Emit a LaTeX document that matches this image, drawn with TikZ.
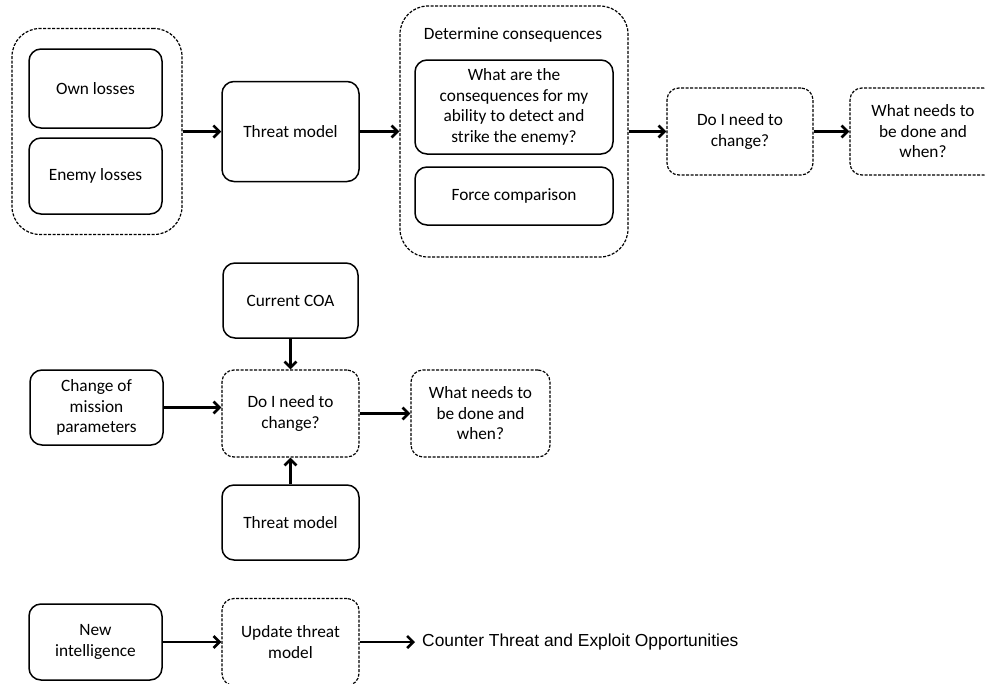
\documentclass[tikz,border=0pt]{standalone}
\usepackage{fontspec}
\setmainfont{Carlito}
\newfontfamily\arialfont{Liberation Sans}
\usetikzlibrary{positioning, arrows.meta}

\begin{document}
\begin{tikzpicture}[
    x=1pt, y=-1pt,
    >={Straight Barb[length=6pt,width=12pt]},
    font=\fontsize{17.3}{20.5}\selectfont,
    % Styles
    box/.style={
        rectangle,
        rounded corners=12pt,
        minimum height=75pt,
        minimum width=133pt,
        inner sep=0pt,
        align=center,
        draw,
        line width=1.5pt
    },
    dbox/.style={
        rectangle,
        rounded corners=12pt,
        minimum height=87pt,
        minimum width=137pt,
        inner sep=0pt,
        align=center,
        draw,
        line width=1.2pt,
        dash pattern=on 3pt off 1.5pt
    },
    group/.style={
        dbox,
        rounded corners=28pt
    },
    arrow/.style={
        ->,
        line width=2.6pt
    }
]
    \useasboundingbox (0,0) rectangle (985,683);

    % Top row
    \node[group, minimum width=170pt, minimum height=206pt] (losses) at (97,131.5) {};
    \node[box, minimum height=79pt] (own) at (95.5,88.5) {Own losses};
    \node[box, minimum height=76pt] (enemy) at (95.5,176) {Enemy losses};
    \node[box, minimum width=137pt, minimum height=100pt] (threat1) at (290.5,131.5) {Threat model};

    \node[group, minimum width=228pt, minimum height=251pt] (determine) at (514,131.5) {};
    \node (dettitle) at (513,35) {Determine consequences};
    \node[box, minimum width=198pt, minimum height=94pt] (conseq) at (514,107)
        {What are the\\consequences for my\\ability to detect and\\strike the enemy?};
    \node[box, minimum width=198pt, minimum height=58pt] (force) at (514,196) {Force comparison};

    \node[dbox, minimum width=146pt] (change1) at (740,131.5) {Do I need to\\change?};
    \node[dbox, minimum width=146pt] (whatnext1) at (923,131.5) {What needs to\\be done and\\when?};

    % Middle
    \node[box, minimum width=135pt] (coa) at (290.5,300.5) {Current COA};
    \node[box] (mission) at (96.5,407.5) {Change of\\mission\\parameters};
    \node[dbox] (change2) at (290.5,413.5) {Do I need to\\change?};
    \node[dbox, minimum width=139pt] (whatnext2) at (480.5,413.5) {What needs to\\be done and\\when?};
    \node[box, minimum width=137pt] (threat2) at (290.5,522.5) {Threat model};

    % Bottom
    \node[box, minimum height=76pt] (newintel) at (95.5,642) {New\\intelligence};
    \node[dbox] (update) at (290.5,642) {Update threat\\model};
    \node[anchor=west, inner xsep=7pt, inner ysep=0pt, font=\arialfont\fontsize{17.4}{20}\selectfont] (counter) at (415,642)
        {Counter Threat and Exploit Opportunities};

    % Paths
    \draw[arrow] (losses) -- (threat1);
    \draw[arrow] (threat1) -- (determine);
    \draw[arrow] (determine) -- (change1);
    \draw[arrow] (change1) -- (whatnext1);
    \draw[arrow] (coa) -- (change2);
    \draw[arrow] (mission.east) -- (mission.east -| change2.west);
    \draw[arrow] (change2) -- (whatnext2);
    \draw[arrow] (threat2) -- (change2);
    \draw[arrow] (newintel) -- (update);
    \draw[arrow] (update) -- (counter);
\end{tikzpicture}
\end{document}
